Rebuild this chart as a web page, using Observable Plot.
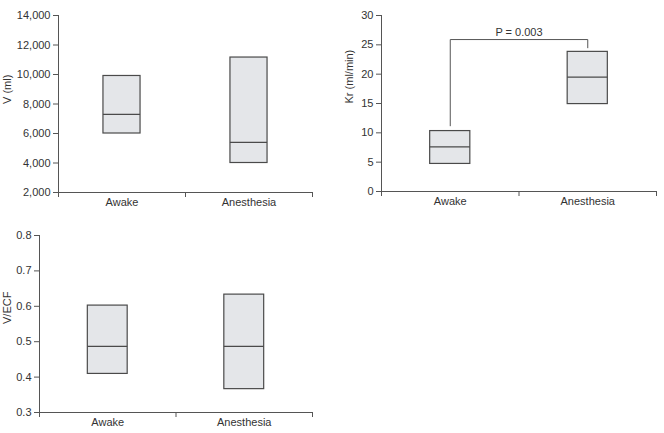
<!DOCTYPE html>
<html><head><meta charset="utf-8">
<script src="https://cdn.jsdelivr.net/npm/d3@7"></script>
<script src="https://cdn.jsdelivr.net/npm/@observablehq/plot@0.6"></script>
<style>
body{margin:0;background:#fff}
#c{position:relative;width:664px;height:433px;background:#fff}
.p{position:absolute}
</style>
</head><body><div id="c"></div>
<script>
const categories = ["Awake", "Anesthesia"];

const vLow = [6000, 4000];
const vMed = [7300, 5400];
const vHigh = [9900, 11150];
const vTicks = [2000, 4000, 6000, 8000, 10000, 12000, 14000];

const krLow = [4.7, 14.9];
const krMed = [7.6, 19.5];
const krHigh = [10.3, 23.8];
const krTicks = [0, 5, 10, 15, 20, 25, 30];

const ecfLow = [0.409, 0.366];
const ecfMed = [0.487, 0.487];
const ecfHigh = [0.602, 0.633];
const ecfTicks = [0.3, 0.4, 0.5, 0.6, 0.7, 0.8];

const pLabel = "P = 0.003";
const bracketTop = 25.9;
const bracketEnds = [11.2, 24.5];

const AX = "#555";
const BOX_FILL = "#e4e6e9";
const BOX_STROKE = "#4a4a4a";

function panel({left, top, width, height, marginLeft, marginBottom, labelX, low, med, high, ticks, fmt, label, extra = []}) {
  const rows = categories.map((c, i) => ({c, x: i + 0.5, low: low[i], med: med[i], high: high[i]}));
  const hw = 0.146;
  const domain = [ticks[0], ticks[ticks.length - 1]];
  const plot = Plot.plot({
    width, height, marginLeft, marginRight: 8, marginTop: 15, marginBottom,
    style: {fontFamily: "'Liberation Sans', Arial, sans-serif", fontSize: "11px", color: "#333", background: "white", overflow: "visible"},
    x: {type: "linear", domain: [0, categories.length]},
    y: {domain},
    marks: [
      Plot.axisY({ticks, tickFormat: fmt, tickSize: 5, tickPadding: 3, stroke: AX, label: null}),
      Plot.axisX({ticks: d3.range(categories.length + 1), tickFormat: () => "", tickSize: 5, stroke: AX, label: null}),
      Plot.axisX({ticks: rows.map(d => d.x), tickFormat: d => categories[Math.round(d - 0.5)], tickSize: 0, tickPadding: 6, label: null}),
      Plot.ruleX([0], {stroke: AX}),
      Plot.ruleY([domain[0]], {stroke: AX}),
      Plot.rect(rows, {x1: d => d.x - hw, x2: d => d.x + hw, y1: "low", y2: "high", fill: BOX_FILL, stroke: BOX_STROKE, strokeWidth: 1.2}),
      Plot.ruleY(rows, {x1: d => d.x - hw, x2: d => d.x + hw, y: "med", stroke: BOX_STROKE, strokeWidth: 1.2}),
      Plot.text([label], {frameAnchor: "left", rotate: -90, dx: labelX - marginLeft, text: d => d, fill: "#333", fontSize: 11}),
      ...extra
    ]
  });
  const div = document.createElement("div");
  div.className = "p";
  div.style.left = left + "px";
  div.style.top = top + "px";
  div.appendChild(plot);
  document.getElementById("c").appendChild(div);
}

panel({left: 0, top: 0, width: 320, height: 215, marginLeft: 58, marginBottom: 23, labelX: 7,
  low: vLow, med: vMed, high: vHigh, ticks: vTicks, fmt: d3.format(","), label: "V (ml)"});

const bracket = [
  {x: 0.5, y: bracketEnds[0]},
  {x: 0.5, y: bracketTop},
  {x: 1.5, y: bracketTop},
  {x: 1.5, y: bracketEnds[1]}
];
panel({left: 332, top: 0, width: 332, height: 215, marginLeft: 49, marginBottom: 24, labelX: 17,
  low: krLow, med: krMed, high: krHigh, ticks: krTicks, fmt: d3.format("d"), label: "Kr (ml/min)",
  extra: [
    Plot.line(bracket, {x: "x", y: "y", stroke: "#555", strokeWidth: 1}),
    Plot.text([pLabel], {x: () => 1, y: () => bracketTop, text: d => d, dy: -7, fill: "#333", fontSize: 11})
  ]});

panel({left: 0, top: 220, width: 320, height: 213, marginLeft: 39, marginBottom: 21, labelX: 7,
  low: ecfLow, med: ecfMed, high: ecfHigh, ticks: ecfTicks, fmt: d3.format(".1f"), label: "V/ECF"});
</script>
</body></html>
